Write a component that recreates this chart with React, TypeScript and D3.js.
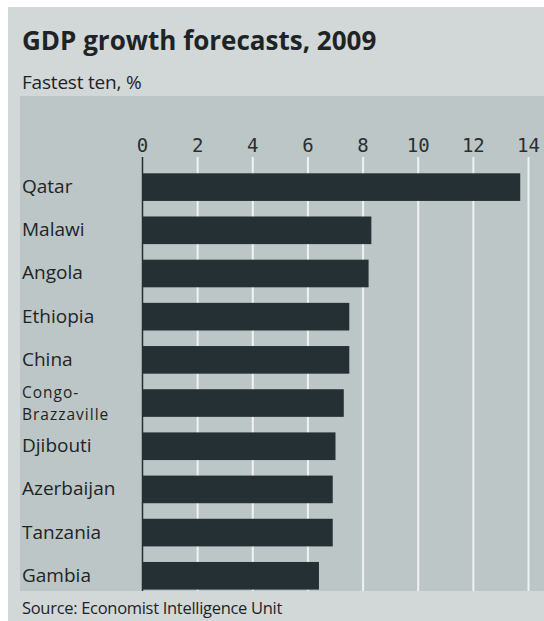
import React from "react";
import * as d3 from "d3";

const countries = ["Qatar", "Malawi", "Angola", "Ethiopia", "China", "Congo-Brazzaville", "Djibouti", "Azerbaijan", "Tanzania", "Gambia"];
const growth = [13.7, 8.3, 8.2, 7.5, 7.5, 7.3, 7.0, 6.9, 6.9, 6.4];
const ticks = [0, 2, 4, 6, 8, 10, 12, 14];
const labelLines: Record<string, string[]> = { "Congo-Brazzaville": ["Congo-", "Brazzaville"] };

const W = 544;
const H = 621;

export default function App() {
  const x = d3.scaleLinear().domain([0, 14]).range([142.5, 528.5]);
  const y = d3.scaleBand<string>().domain(countries).range([173.3, 589.6]).paddingInner(0.36).paddingOuter(0);
  const font = "'Open Sans', 'Noto Sans', sans-serif";
  return (
    <svg width={W} height={H} style={{ position: "absolute", left: 0, top: 0, background: "#ffffff" }}>
      <rect x={8} y={7} width={W - 8} height={H - 7} fill="#d2d8d8" />
      <rect x={20} y={96} width={W - 20} height={495} fill="#bcc6c7" />
      <text x={22} y={50} fontFamily={font} fontWeight={700} fontSize={26} fill="#1e2426" letterSpacing={0}>
        GDP growth forecasts, 2009
      </text>
      <text x={22} y={89} fontFamily={font} fontSize={19} fill="#1e2426" letterSpacing={-0.2}>
        Fastest ten, %
      </text>
      {ticks.map((t) => (
        <g key={t}>
          {t !== 0 && <line x1={x(t)} x2={x(t)} y1={157} y2={591} stroke="#eef2f2" strokeWidth={2} />}
          <text x={x(t)} y={152} textAnchor="middle" fontFamily="'DejaVu Sans Mono', monospace" fontSize={19} fill="#2a3032">
            {t}
          </text>
        </g>
      ))}
      <line x1={x(0)} x2={x(0)} y1={157} y2={591} stroke="#263033" strokeWidth={1.5} />
      {countries.map((c, i) => {
        const yc = (y(c) as number) + y.bandwidth() / 2;
        const lines = labelLines[c] || [c];
        const lh = 21.5;
        return (
          <g key={c}>
            <rect x={x(0)} y={y(c)} width={x(growth[i]) - x(0)} height={y.bandwidth()} fill="#243034" />
            {lines.map((l, k) => (
              <text key={k} x={22} y={yc + 6 - ((lines.length - 1) * lh) / 2 + k * lh} fontFamily={font} fontSize={lines.length > 1 ? 15.5 : 19} letterSpacing={lines.length > 1 ? 1 : 0} fill="#1e2426">
                {l}
              </text>
            ))}
          </g>
        );
      })}
      <text x={22} y={614} fontFamily={font} fontSize={16.5} fill="#1e2426" letterSpacing={-0.3}>
        Source: Economist Intelligence Unit
      </text>
    </svg>
  );
}
